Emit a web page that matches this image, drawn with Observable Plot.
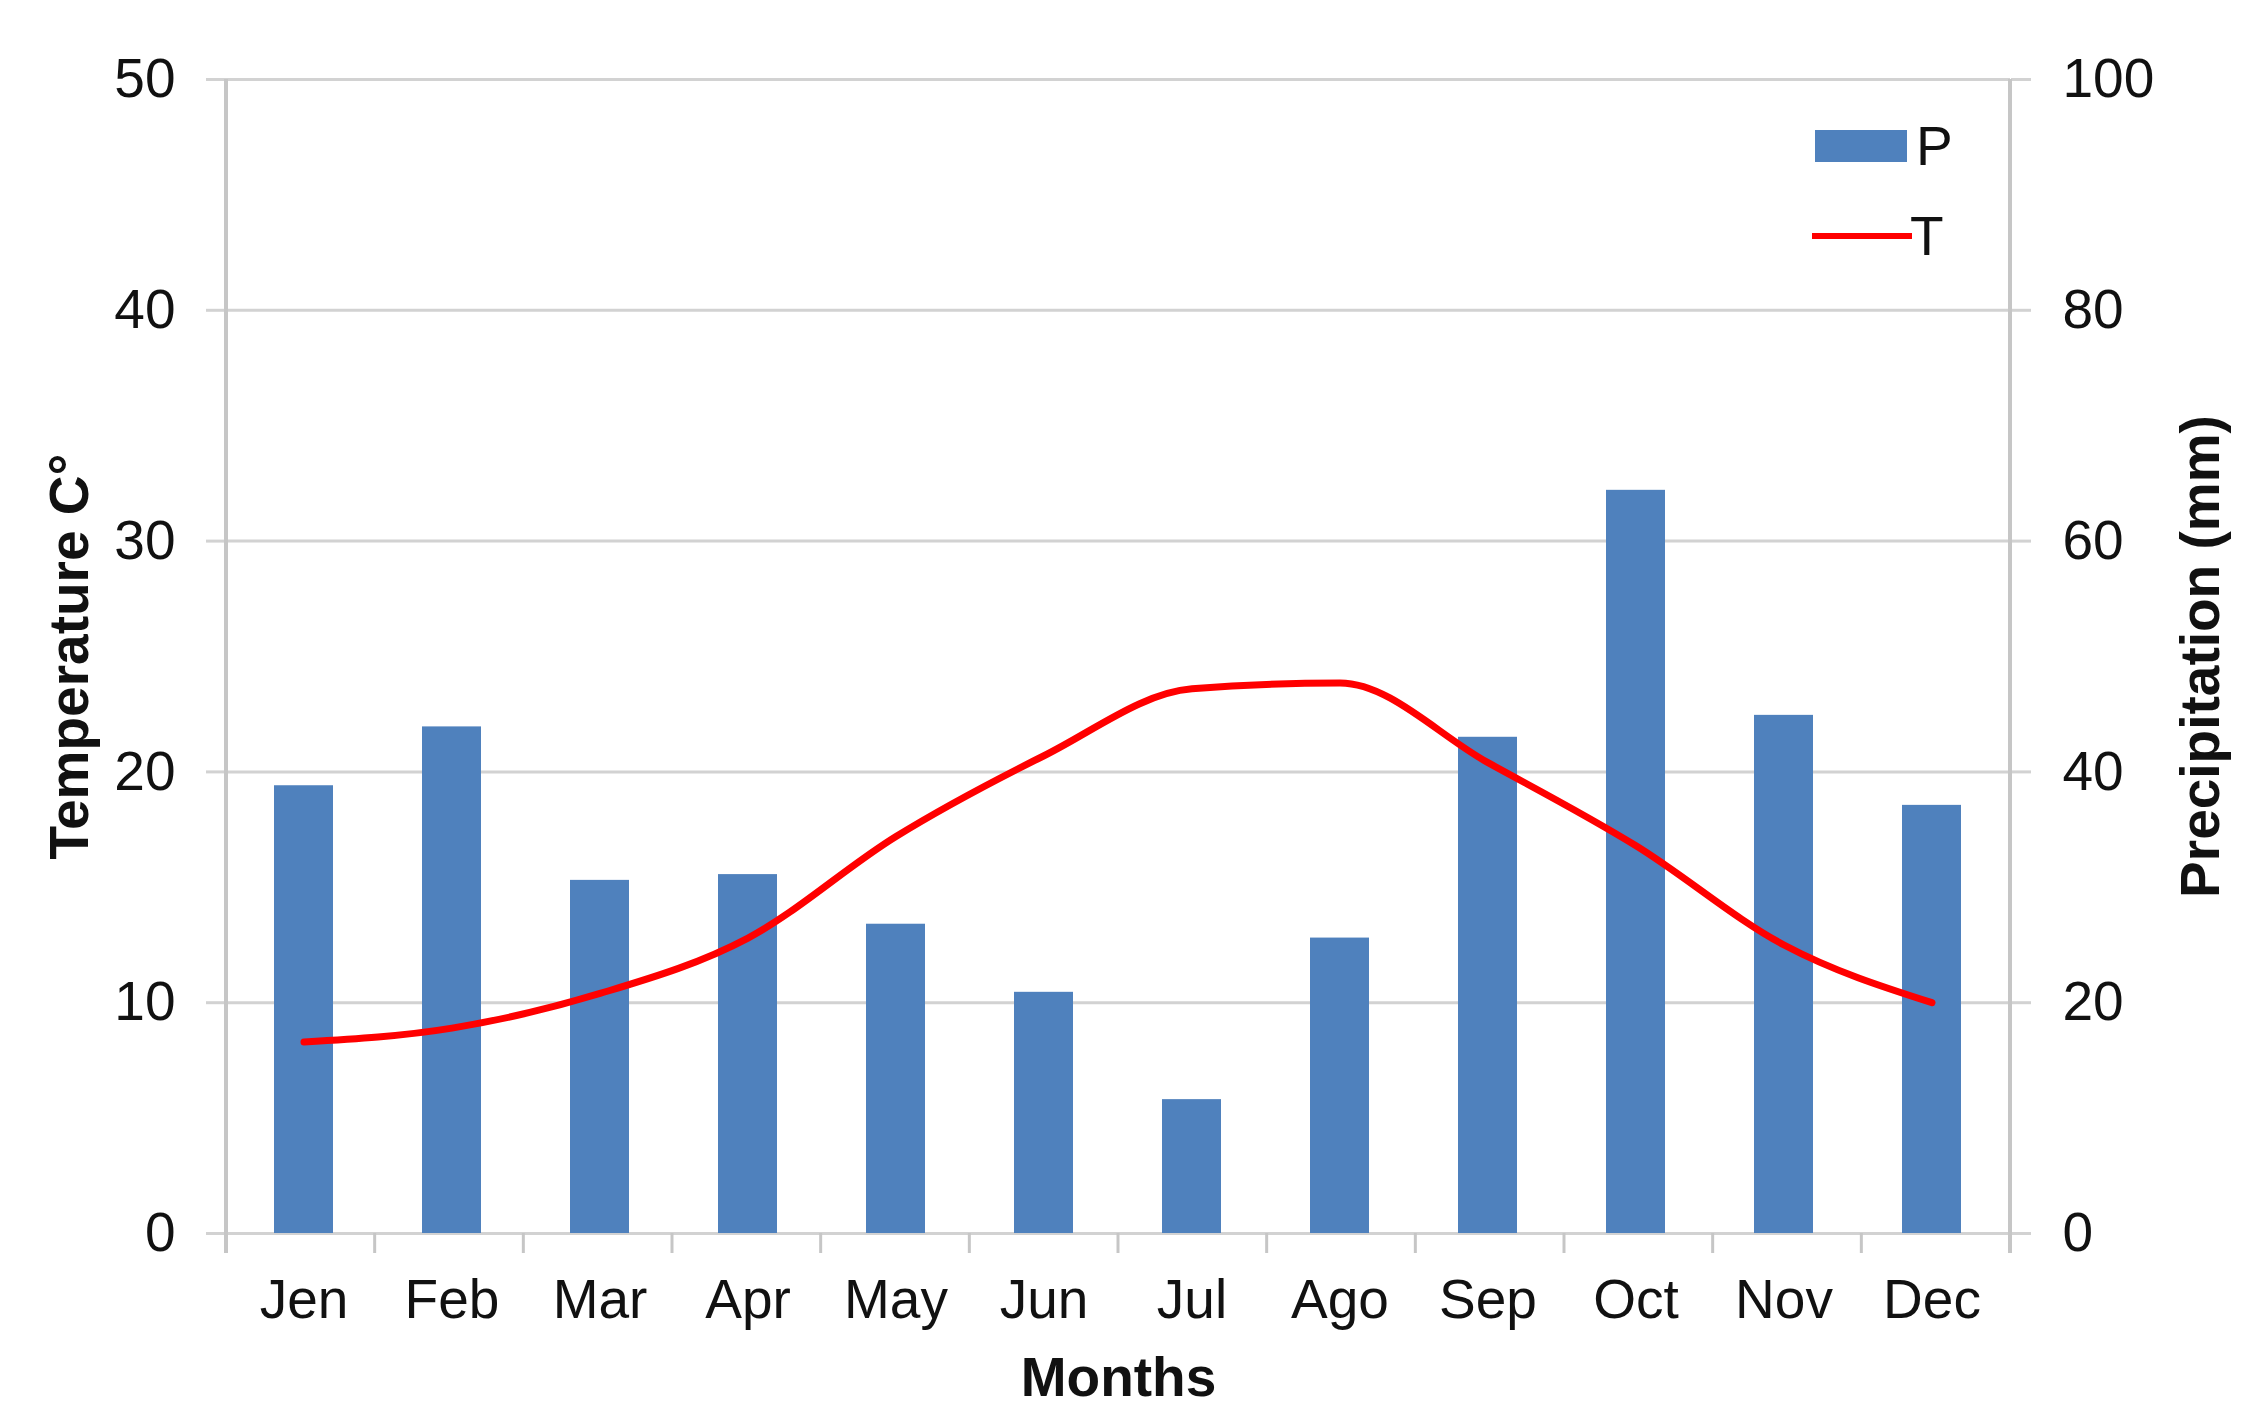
<!DOCTYPE html>
<html>
<head>
<meta charset="utf-8">
<script src="https://cdn.jsdelivr.net/npm/d3@7"></script>
<script src="https://cdn.jsdelivr.net/npm/@observablehq/plot@0.6"></script>
<style>
  body { margin: 0; background: #fff; }
  #chart { position: relative; width: 2256px; height: 1427px; }
</style>
</head>
<body>
<div id="chart"></div>
<script>
// ---- data ----
const months = ["Jen", "Feb", "Mar", "Apr", "May", "Jun", "Jul", "Ago", "Sep", "Oct", "Nov", "Dec"];
const precipitation = [38.8, 43.9, 30.6, 31.1, 26.8, 20.9, 11.6, 25.6, 43.0, 64.4, 44.9, 37.1]; // mm (right axis)
const temperature = [8.3, 8.9, 10.4, 12.8, 17.2, 20.7, 23.6, 23.85, 20.4, 16.8, 12.5, 10.0];   // °C (left axis)
const tempTicks = [0, 10, 20, 30, 40, 50];
const precipTicks = [0, 20, 40, 60, 80, 100];
const seriesNames = ["P", "T"];

const ratio = precipTicks[precipTicks.length - 1] / tempTicks[tempTicks.length - 1]; // mm per °C
const data = months.map((m, i) => ({month: m, P: precipitation[i], T: temperature[i]}));

const font = "'Liberation Sans', Arial, Helvetica, sans-serif";
const gridColor = "#d2d2d2";
const axisColor = "#c6c6c6";
const barColor = "#4f81bd";
const lineColor = "#ff0000";

const chart = Plot.plot({
  width: 2256,
  height: 1427,
  marginLeft: 226,
  marginRight: 246,
  marginTop: 79,
  marginBottom: 194,
  style: {fontFamily: font, fontSize: "55px", color: "#111", background: "#fff"},
  x: {type: "band", domain: months, paddingInner: 0.6, paddingOuter: 0.3},
  y: {domain: [0, 50]},
  marks: [
    Plot.gridY({ticks: tempTicks, stroke: gridColor, strokeOpacity: 1, strokeWidth: 3}),
    Plot.axisY({ticks: tempTicks, anchor: "left", tickSize: 20, tickPadding: 31, label: null,
                stroke: gridColor, strokeWidth: 3, strokeOpacity: 1}),
    Plot.axisY({ticks: tempTicks, anchor: "right", tickSize: 20, tickPadding: 32, label: null,
                tickFormat: d => String(d * ratio),
                stroke: gridColor, strokeWidth: 3, strokeOpacity: 1}),
    Plot.axisX({tickSize: 0, tickPadding: 45, label: null}),
    Plot.barY(data, {x: "month", y: d => d.P / ratio, fill: barColor}),
    Plot.line(data, {x: "month", y: "T", stroke: lineColor, strokeWidth: 7, curve: "monotone-x"}),
    Plot.text(["Temperature C°"], {frameAnchor: "left", rotate: -90, dx: -178, lineAnchor: "top",
                textAnchor: "middle", fontWeight: "bold", fill: "#111"}),
    Plot.text(["Precipitation (mm)"], {frameAnchor: "right", rotate: -90, dx: 208, lineAnchor: "bottom",
                textAnchor: "middle", fontWeight: "bold", fill: "#111"}),
    Plot.text(["Months"], {frameAnchor: "bottom", dy: 162, lineAnchor: "bottom",
                fontWeight: "bold", fill: "#111"})
  ]
});

document.getElementById("chart").appendChild(chart);

// ---- axis frame lines and category boundary ticks, from the plot's own scales ----
const svg = d3.select(chart);
const xs = chart.scale("x");
const ysc = chart.scale("y");
const [r0, r1] = xs.range;
const step = (r1 - r0) / months.length;
const yTop = ysc.range[1], yBottom = ysc.range[0];
const g = svg.append("g");
d3.range(months.length + 1).forEach(i => {
  g.append("line")
    .attr("x1", r0 + i * step).attr("x2", r0 + i * step)
    .attr("y1", yBottom).attr("y2", yBottom + 20)
    .attr("stroke", axisColor).attr("stroke-width", 3);
});
[r0, r1].forEach(x => {
  g.append("line")
    .attr("x1", x).attr("x2", x)
    .attr("y1", yTop).attr("y2", yBottom + 20)
    .attr("stroke", axisColor).attr("stroke-width", 4);
});
// re-raise bars and line above the frame lines
svg.selectAll("g[aria-label='bar'], g[aria-label='line']").raise();

// ---- legend (inside the plot area, top right) ----
const lg = svg.append("g").attr("font-family", font).attr("font-size", 55).attr("fill", "#111");
lg.append("rect").attr("x", 1815).attr("y", 130).attr("width", 92).attr("height", 32).attr("fill", barColor);
lg.append("text").attr("x", 1916).attr("y", 165).attr("text-anchor", "start").text(seriesNames[0]);
lg.append("line").attr("x1", 1812).attr("x2", 1912).attr("y1", 236).attr("y2", 236)
  .attr("stroke", lineColor).attr("stroke-width", 6);
lg.append("text").attr("x", 1910).attr("y", 255).attr("text-anchor", "start").text(seriesNames[1]);
</script>
</body>
</html>
